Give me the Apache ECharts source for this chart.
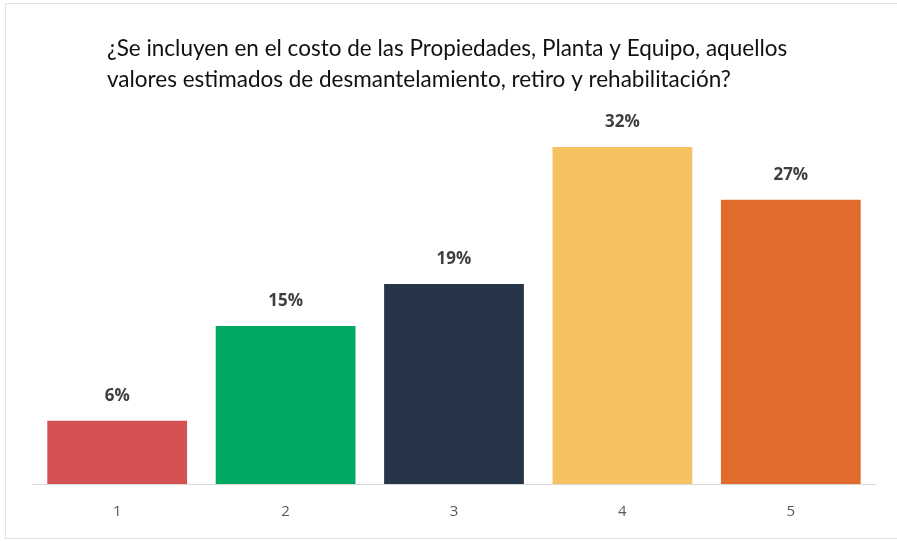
<html lang="es">
  <head>
    <meta charset="utf-8" />
    <title>Desmantelamiento</title>
    <script src="https://cdn.jsdelivr.net/npm/echarts@6/dist/echarts.min.js"></script>
    <style>
      body { margin: 0; background: #fff; }
      #frame { position: absolute; left: 5px; top: 3px; width: 900px; height: 536px; border: 1px solid #e3e3e3; box-sizing: border-box; }
      #main { position: absolute; left: 0; top: 0; width: 897px; height: 541px; }
    </style>
  </head>
  <body>
    <div id="frame"></div>
    <div id="main"></div>
    <script type="text/javascript">
      // datos
      var categorias = ['1', '2', '3', '4', '5'];
      var valores = [6, 15, 19, 32, 27];
      var colores = ['#D55252', '#00A862', '#263548', '#F5C262', '#E06B2D'];
      var titulo = '¿Se incluyen en el costo de las Propiedades, Planta y Equipo, aquellos\nvalores estimados de desmantelamiento, retiro y rehabilitación?';

      var myChart = echarts.init(document.getElementById('main'));
      var option = {
        animation: false,
        title: {
          text: titulo,
          left: 102,
          top: 28,
          textStyle: {
            fontFamily: 'Lato',
            fontWeight: 'normal',
            fontSize: 22.5,
            lineHeight: 31,
            color: '#111'
          }
        },
        grid: { left: 33, right: 22, top: 147, bottom: 57 },
        xAxis: {
          type: 'category',
          data: categorias,
          axisLine: { lineStyle: { color: '#d9d9d9', width: 1 } },
          axisTick: { show: false },
          axisLabel: { color: '#595959', fontSize: 15, margin: 20, fontFamily: 'Open Sans' }
        },
        yAxis: {
          type: 'value',
          min: 0,
          max: 32,
          show: false
        },
        series: [{
          type: 'bar',
          barCategoryGap: '17%',
          data: valores.map(function (v, i) {
            return { value: v, itemStyle: { color: colores[i] } };
          }),
          label: {
            show: true,
            position: 'top',
            distance: 16,
            formatter: '{c}%',
            fontFamily: 'Open Sans',
            fontWeight: 'bold',
            fontSize: 17,
            color: '#404040'
          }
        }]
      };
      myChart.setOption(option);
    </script>
  </body>
</html>
